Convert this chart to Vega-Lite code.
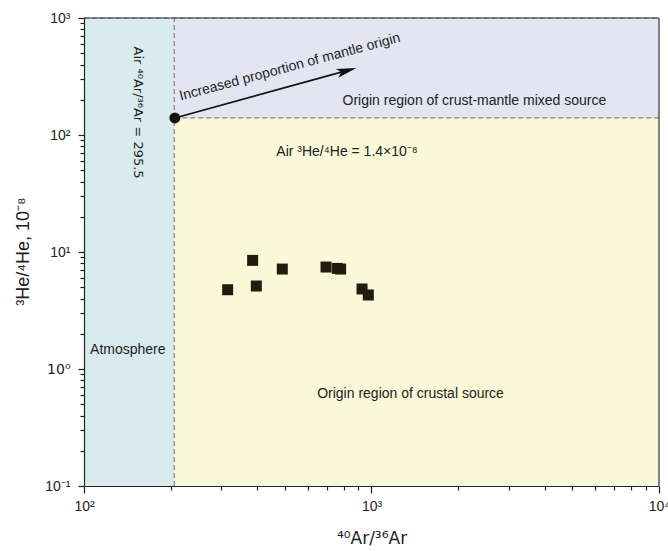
{
  "$schema": "https://vega.github.io/schema/vega-lite/v6.json",
  "width": 575,
  "height": 468,
  "autosize": "none",
  "padding": {"left": 84, "top": 18, "right": 9, "bottom": 65},
  "background": "white",
  "config": {"font": "Liberation Sans", "view": {"stroke": null}},
  "layer": [
    {
      "data": {"values": [
        {"region": "atm", "x": 100, "x2": 206, "y": 0.1, "y2": 1000},
        {"region": "mix", "x": 206, "x2": 10000, "y": 140, "y2": 1000},
        {"region": "crust", "x": 206, "x2": 10000, "y": 0.1, "y2": 140}
      ]},
      "mark": {"type": "rect", "strokeWidth": 0},
      "encoding": {
        "x": {"field": "x", "type": "quantitative",
          "scale": {"type": "log", "domain": [100, 10000], "nice": false},
          "axis": {
            "title": "⁴⁰Ar/³⁶Ar",
            "values": [100, 200, 300, 400, 500, 600, 700, 800, 900, 1000, 2000, 3000, 4000, 5000, 6000, 7000, 8000, 9000, 10000],
            "labelExpr": "datum.value==100?'10²':datum.value==1000?'10³':datum.value==10000?'10⁴':''",
            "tickSize": {"condition": {"test": "datum.value==100||datum.value==1000||datum.value==10000", "value": 7}, "value": 4},
            "grid": false, "zindex": 1,
            "domainColor": "#222", "tickColor": "#222", "tickWidth": 1.2, "domainWidth": 1.2,
            "labelFontSize": 14, "labelColor": "#222", "labelPadding": 6,
            "labelFlush": false, "labelOverlap": false,
            "titleFont": "DejaVu Sans", "titleFontSize": 17, "titleFontWeight": "normal", "titleColor": "#222",
            "titleY": 52, "titleBaseline": "middle"
          }},
        "x2": {"field": "x2"},
        "y": {"field": "y", "type": "quantitative",
          "scale": {"type": "log", "domain": [0.1, 1000], "nice": false},
          "axis": {
            "title": "³He/⁴He, 10⁻⁸",
            "values": [0.1, 0.2, 0.3, 0.4, 0.5, 0.6, 0.7, 0.8, 0.9, 1, 2, 3, 4, 5, 6, 7, 8, 9, 10, 20, 30, 40, 50, 60, 70, 80, 90, 100, 200, 300, 400, 500, 600, 700, 800, 900, 1000],
            "labelExpr": "datum.value==0.1?'10⁻¹':datum.value==1?'10⁰':datum.value==10?'10¹':datum.value==100?'10²':datum.value==1000?'10³':''",
            "labelFont": {"condition": {"test": "datum.value==1", "value": "DejaVu Sans"}, "value": "Liberation Sans"},
            "tickSize": {"condition": {"test": "datum.value==0.1||datum.value==1||datum.value==10||datum.value==100||datum.value==1000", "value": 6}, "value": 4},
            "grid": false, "zindex": 1,
            "domainColor": "#222", "tickColor": "#222", "tickWidth": 1.2, "domainWidth": 1.2,
            "labelFontSize": 14, "labelColor": "#222", "labelPadding": 8,
            "labelFlush": false, "labelOverlap": false,
            "titleFontSize": 18, "titleFontWeight": "normal", "titleColor": "#222",
            "titleAngle": -90, "titleX": -61, "titleY": 233, "titleAlign": "center", "titleBaseline": "middle"
          }},
        "y2": {"field": "y2"},
        "color": {"field": "region", "type": "nominal",
          "scale": {"domain": ["atm", "mix", "crust"], "range": ["#d9ebef", "#e3e6f2", "#f9f8d9"]},
          "legend": null}
      }
    },
    {
      "data": {"values": [
        {"x": 206, "x2": 206, "y": 0.1, "y2": 1000},
        {"x": 206, "x2": 10000, "y": 140, "y2": 140},
        {"x": 100, "x2": 10000, "y": 1000, "y2": 1000}
      ]},
      "mark": {"type": "rule", "color": "#6e6e6e", "strokeDash": [5, 3], "strokeWidth": 1},
      "encoding": {
        "x": {"field": "x", "type": "quantitative"},
        "x2": {"field": "x2"},
        "y": {"field": "y", "type": "quantitative"},
        "y2": {"field": "y2"}
      }
    },
    {
      "data": {"values": [
        {"x": 100, "x2": 10000, "y": 1000, "y2": 1000},
        {"x": 10000, "x2": 10000, "y": 0.1, "y2": 1000}
      ]},
      "mark": {"type": "rule", "color": "#333", "strokeWidth": 1.2},
      "encoding": {
        "x": {"field": "x", "type": "quantitative"},
        "x2": {"field": "x2"},
        "y": {"field": "y", "type": "quantitative"},
        "y2": {"field": "y2"}
      }
    },
    {
      "data": {"values": [
        {"x": 207, "x2": 820, "y": 140, "y2": 355}
      ]},
      "mark": {"type": "rule", "color": "#111", "strokeWidth": 1.6},
      "encoding": {
        "x": {"field": "x", "type": "quantitative"},
        "x2": {"field": "x2"},
        "y": {"field": "y", "type": "quantitative"},
        "y2": {"field": "y2"}
      }
    },
    {
      "data": {"values": [{"x": 820, "y": 355}]},
      "mark": {"type": "point", "shape": "M1,0L-1,-0.45L-0.55,0L-1,0.45Z", "filled": true, "size": 400, "angle": -15.5, "color": "#111", "opacity": 1},
      "encoding": {
        "x": {"field": "x", "type": "quantitative"},
        "y": {"field": "y", "type": "quantitative"}
      }
    },
    {
      "data": {"values": [{"x": 207, "y": 140}]},
      "mark": {"type": "point", "shape": "circle", "filled": true, "size": 120, "color": "#111", "opacity": 1},
      "encoding": {
        "x": {"field": "x", "type": "quantitative"},
        "y": {"field": "y", "type": "quantitative"}
      }
    },
    {
      "data": {"values": [
        {"x": 316, "y": 4.76},
        {"x": 386, "y": 8.48},
        {"x": 397.5, "y": 5.12},
        {"x": 489.5, "y": 7.15},
        {"x": 694.6, "y": 7.44},
        {"x": 760, "y": 7.24},
        {"x": 781, "y": 7.15},
        {"x": 927, "y": 4.83},
        {"x": 975, "y": 4.29}
      ]},
      "mark": {"type": "square", "size": 121, "color": "#241a10", "opacity": 1},
      "encoding": {
        "x": {"field": "x", "type": "quantitative"},
        "y": {"field": "y", "type": "quantitative"}
      }
    },
    {
      "data": {"values": [
        {"x": 142, "y": 1.46, "text": "Atmosphere"},
        {"x": 1367, "y": 0.614, "text": "Origin region of crustal source"},
        {"x": 2280, "y": 197, "text": "Origin region of crust-mantle mixed source"},
        {"x": 822, "y": 72.1, "text": "Air ³He/⁴He = 1.4×10⁻⁸"}
      ]},
      "mark": {"type": "text", "fontSize": 14, "color": "#222", "align": "center", "baseline": "middle"},
      "encoding": {
        "x": {"field": "x", "type": "quantitative"},
        "y": {"field": "y", "type": "quantitative"},
        "text": {"field": "text"}
      }
    },
    {
      "data": {"values": [{"x": 153.5, "y": 155.5, "text": "Air ⁴⁰Ar/³⁶Ar = 295.5"}]},
      "mark": {"type": "text", "font": "DejaVu Sans", "fontSize": 13, "color": "#222", "align": "center", "baseline": "middle", "angle": 90},
      "encoding": {
        "x": {"field": "x", "type": "quantitative"},
        "y": {"field": "y", "type": "quantitative"},
        "text": {"field": "text"}
      }
    },
    {
      "data": {"values": [{"x": 524, "y": 352, "text": "Increased proportion of mantle origin"}]},
      "mark": {"type": "text", "fontSize": 14, "color": "#222", "align": "center", "baseline": "alphabetic", "angle": -15},
      "encoding": {
        "x": {"field": "x", "type": "quantitative"},
        "y": {"field": "y", "type": "quantitative"},
        "text": {"field": "text"}
      }
    }
  ]
}
